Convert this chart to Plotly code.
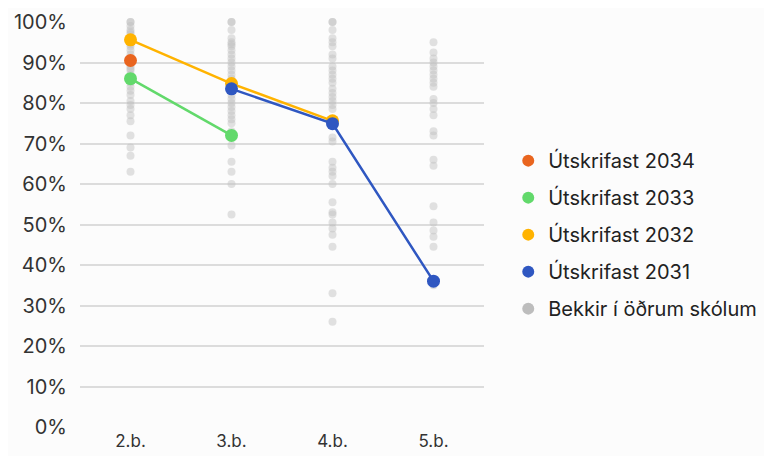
import plotly.graph_objects as go

bekkir = ["2.b.", "3.b.", "4.b.", "5.b."]

# Bekkir í öðrum skólum (grey dots), hlutfall í %
annad_2b = [100, 100, 99, 98, 97.5, 97, 96, 95, 94.5, 94, 93, 92, 91, 90, 89, 88.5, 88, 87, 86,
            85, 84, 83, 82, 80.5, 79.5, 78.5, 77, 75.5, 72, 69, 67, 63]
annad_3b = [100, 100, 98, 96, 95, 94.5, 94, 93, 92, 91, 90, 89, 88, 87, 86, 85, 84, 83, 82, 81,
            80, 79, 78, 77, 76, 75, 73, 69.5, 65.5, 63, 60, 52.5]
annad_4b = [100, 100, 98, 96, 95, 94, 92, 91, 89, 88, 87, 86, 85, 83.5, 82.5, 81.5, 80.5, 79.5,
            78.5, 76, 71.5, 70.5, 65.5, 64, 63, 62, 60, 55.5, 53, 52.5, 50.5, 49, 47.5, 44.5, 33, 26]
annad_5b = [95, 92.5, 91, 90, 89, 88, 87, 86, 85, 84, 81, 80, 78.5, 77, 73, 72, 66, 64.5, 54.5,
            50.5, 48.5, 47, 44.5, 35]

arg_2034 = [90.5, None, None, None]
arg_2033 = [86, 72, None, None]
arg_2032 = [95.6, 84.8, 75.6, None]
arg_2031 = [None, 83.5, 74.9, 36]

heiti = ["Útskrifast 2034", "Útskrifast 2033", "Útskrifast 2032", "Útskrifast 2031"]
litir = ["#e9651f", "#62d96b", "#ffb300", "#2f57c1"]
grar = "#bdbdbd"

fig = go.Figure()

gx, gy = [], []
for b, vals in zip(bekkir, [annad_2b, annad_3b, annad_4b, annad_5b]):
    gx += [b] * len(vals)
    gy += vals
fig.add_trace(go.Scatter(x=gx, y=gy, mode="markers", showlegend=False,
                         marker=dict(size=8, color="rgba(190,190,190,0.45)"),
                         cliponaxis=False))

for nafn, lit, vals in zip(heiti, litir, [arg_2034, arg_2033, arg_2032, arg_2031]):
    fig.add_trace(go.Scatter(x=bekkir, y=vals, mode="lines+markers", showlegend=False,
                             line=dict(color=lit, width=2.5),
                             marker=dict(size=13, color=lit), cliponaxis=False))

# legend entries (markers only)
for i, (nafn, lit) in enumerate(zip(heiti + ["Bekkir í öðrum skólum"], litir + [grar])):
    fig.add_trace(go.Scatter(x=[None], y=[None], mode="markers", name=nafn,
                             legendgroup=str(i), legendrank=i + 1,
                             marker=dict(size=17, color=lit)))

# the page body adds 8px, so the figure is 8px smaller and margins shifted
fig.update_layout(
    width=764, height=448,
    margin=dict(l=71.5, r=287.5, t=14, b=29, autoexpand=False),
    paper_bgcolor="#fcfcfc", plot_bgcolor="#fcfcfc",
    font=dict(family="Inter, Roboto, sans-serif", color="#333333"),
    legend=dict(x=1.06, xanchor="left", y=0.475, yanchor="middle",
                font=dict(size=20, color="#222222"), traceorder="grouped",
                tracegroupgap=8, itemsizing="constant"),
    xaxis=dict(type="category", range=[-0.5, 3.5], showgrid=False, showline=False,
               zeroline=False, tickfont=dict(size=17), ticks="", ticklabelstandoff=2),
    yaxis=dict(range=[0, 100], dtick=10, ticksuffix="%", showgrid=True,
               gridcolor="#dcdcdc", gridwidth=1.5, zeroline=False,
               tickfont=dict(size=20), ticks="", ticklabelstandoff=12),
)

fig.write_html("out.html")
